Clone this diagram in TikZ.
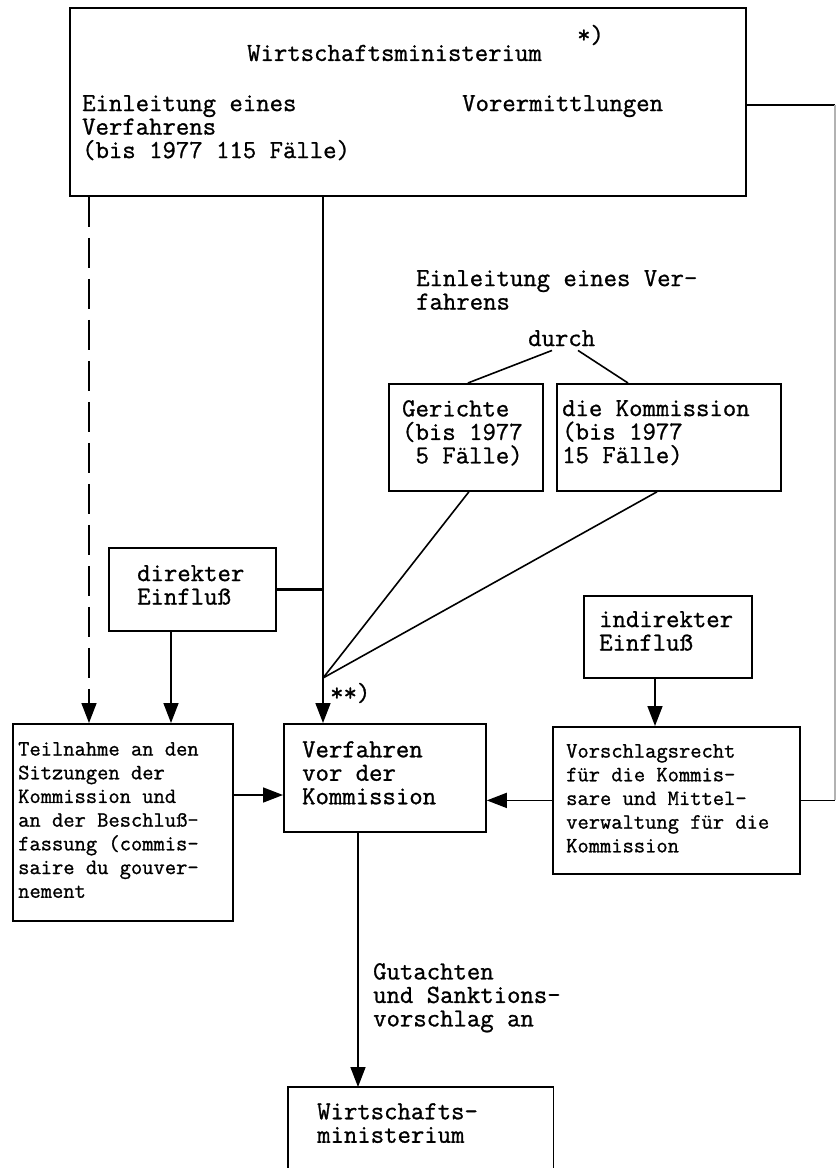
\documentclass[tikz,border=0pt]{standalone}
\usepackage{fontspec}
\newfontfamily\tw[FakeBold=1]{Latin Modern Mono}
\usetikzlibrary{arrows.meta,calc}
\begin{document}
\begin{tikzpicture}[x=1pt,y=-1pt,
 box/.style={draw,line width=1.8pt,inner sep=0pt,anchor=north west},
 big/.style={font=\tw\fontsize{26}{23.5}\selectfont,inner sep=0pt,align=left,anchor=north west},
 small/.style={font=\tw\fontsize{21.9}{23.7}\selectfont,inner sep=0pt,align=left,anchor=north west},
 con/.style={line width=1.6pt},
 arr/.style={con,-{Triangle[length=20pt,width=15pt]}},
]
\useasboundingbox[fill=white] (0,0) rectangle (837,1168);

% boxes
\node[box,minimum width=676pt,minimum height=188pt] (wm) at (69,7) {};
\node[box,minimum width=167pt,minimum height=83pt] (direkt) at (108,547) {};
\node[box,minimum width=220pt,minimum height=197pt] (teiln) at (12,723) {};
\node[box,minimum width=202pt,minimum height=108pt] (verf) at (283,723) {};
\node[box,minimum width=154pt,minimum height=107pt] (ger) at (388,383) {};
\node[box,minimum width=224pt,minimum height=107pt] (komm) at (556,383) {};
\node[box,minimum width=168pt,minimum height=82pt] (indir) at (583,595) {};
\node[box,minimum width=247pt,minimum height=147pt] (vorsch) at (552,726) {};
\node[inner sep=0pt,anchor=north west,minimum width=265pt,minimum height=100pt] (wmb) at (288,1087) {};
\draw[line width=1.8pt] (wmb.south west) -- (wmb.north west) -- (wmb.north east) -- (wmb.south east);

% texts
\node[big,anchor=west] (wmt) at (247,53) {Wirtschaftsministerium};
\node[big,anchor=west] (star) at (577,35) {*)};
\node[big] (einl) at (82,95) {Einleitung eines\\Verfahrens\\(bis 1977 115 Fälle)};
\node[big] (vorer) at (462,95) {Vorermittlungen};
\node[big] (einl2) at (416,270) {Einleitung eines Ver-\\fahrens};
\node[big] (durch) at (528,330) {durch};
\node[big] (gert) at (402,400) {Gerichte\\(bis 1977\\\ 5 Fälle)};
\node[big] (kommt) at (562,400) {die Kommission\\(bis 1977\\15 Fälle)};
\node[big] (direktt) at (137,565) {direkter\\Einfluß};
\node[big] (indirt) at (599,611) {indirekter\\Einfluß};
\node[big] (verft) at (302,741) {Verfahren\\vor der\\Kommission};
\node[big,anchor=west] (stars) at (330,693) {**)};
\node[small] (teilnt) at (18,742) {Teilnahme an den\\Sitzungen der\\Kommission und\\an der Beschluß-\\fassung (commis-\\saire du gouver-\\nement};
\node[small] (vorscht) at (566,744) {Vorschlagsrecht\\für die Kommis-\\sare und Mittel-\\verwaltung für die\\Kommission};
\node[big] (guta) at (373,963) {Gutachten\\und Sanktions-\\vorschlag an};
\node[big] (wmbt) at (317,1103) {Wirtschafts-\\ministerium};

% helper x positions
\coordinate (rx) at (835,0);
\coordinate (dx) at (89,0);
\coordinate (sx) at (323,0);
\coordinate (ax) at (171,0);
\coordinate (ix) at (655,0);
\coordinate (vx) at (358,0);
\coordinate (cv) at (323,678);

% connectors
\draw[con] ([yshift=-3pt]wm.east) -- ([yshift=-3pt]wm.east -| rx);
\draw[con] (vorsch.east) -- (vorsch.east -| rx);
\draw[gray!60,line width=1.2pt] ([yshift=-3pt]wm.east -| rx) -- (vorsch.east -| rx);
\draw[arr,dash pattern=on 30pt off 11pt] (wm.south -| dx) -- (teiln.north -| dx);
\draw[arr] (wm.south -| sx) -- (verf.north -| sx);
\draw[line width=3pt] (direkt.east) -- (direkt.east -| sx);
\draw[arr] (direkt.south -| ax) -- (teiln.north -| ax);
\draw[arr] ([yshift=-72pt]teiln.north east) -- ([yshift=-72pt]verf.north west);
\draw[arr] (vorsch.west) -- (vorsch.west -| verf.east);
\draw[arr] (indir.south -| ix) -- (vorsch.north -| ix);
\draw[con] ([xshift=24pt,yshift=-4pt]durch.south west) -- ([xshift=2pt]ger.north);
\draw[con] ([xshift=50pt,yshift=-4pt]durch.south west) -- ([xshift=72pt]komm.north west);
\draw[con] ([xshift=3pt]ger.south) -- (cv);
\draw[con] ([xshift=101pt]komm.south west) -- (cv);
\draw[arr] (verf.south -| vx) -- (wmb.north -| vx);
\end{tikzpicture}
\end{document}
